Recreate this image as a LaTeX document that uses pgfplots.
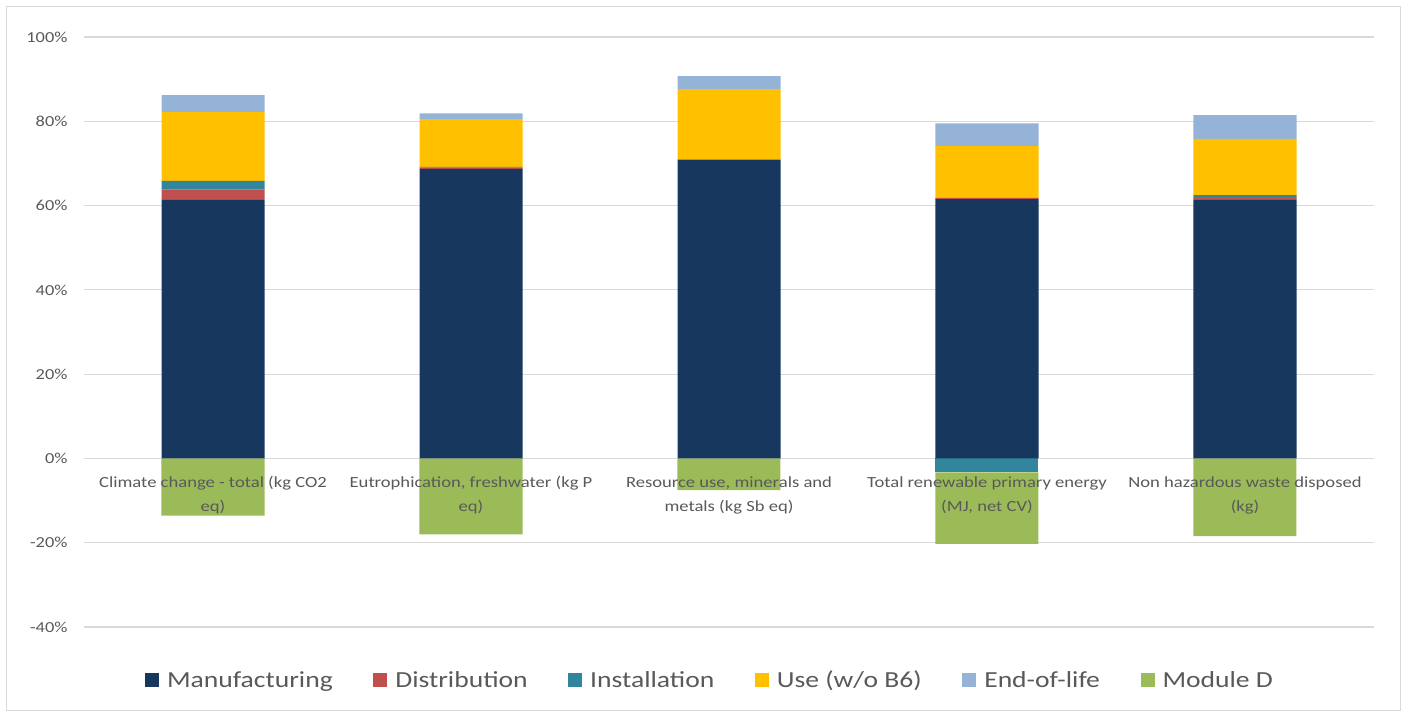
\documentclass[border=0pt]{standalone}
\usepackage{pgfplots}
\pgfplotsset{compat=1.18}
\usepackage{fontspec}
\setmainfont{Carlito}[FakeStretch=1.2]

\definecolor{cManu}{HTML}{17375E}
\definecolor{cDist}{HTML}{C0504D}
\definecolor{cInst}{HTML}{31859C}
\definecolor{cUse}{HTML}{FFC000}
\definecolor{cEol}{HTML}{95B3D7}
\definecolor{cModD}{HTML}{9BBB59}
\definecolor{cGrid}{HTML}{D9D9D9}
\definecolor{cText}{HTML}{595959}

\pgfplotsset{legsq/.style={legend image code/.code={\fill[##1] (0pt,-7pt) rectangle (14pt,7pt);}}}

\begin{document}
\begin{tikzpicture}[x=1pt,y=1pt]
\path[use as bounding box] (0,0) rectangle (1407,717);
\draw[cGrid, line width=1pt] (6.5,6.5) rectangle (1400.5,710.5);

% Axis 1: grid, y ticks, negative stacks, legend
\begin{axis}[
  at={(84pt,90pt)}, anchor=south west,
  scale only axis, width=1290pt, height=590pt,
  xmin=-0.5, xmax=4.5, ymin=-40, ymax=100,
  axis line style={draw=none},
  ymajorgrids, grid style={cGrid, line width=1.2pt},
  xtick=\empty,
  ytick={-40,-20,0,20,40,60,80,100},
  yticklabels={-40\%,-20\%,0\%,20\%,40\%,60\%,80\%,100\%},
  major tick length=0pt,
  yticklabel style={font=\fontsize{15.3}{18}\selectfont, text=cText, xshift=-13pt},
  ybar stacked, bar width=103pt,
  legend columns=6,
  legend style={at={(0.5,0)}, anchor=center, xshift=-19pt, yshift=-53pt,
    draw=none, fill=none, font=\fontsize{23}{28}\selectfont, text=cText,
    /tikz/every odd column/.append style={column sep=6pt},
    /tikz/every even column/.append style={column sep=38.5pt}},
]
\addplot[fill=cInst, draw=none, forget plot] coordinates {(0,0) (1,0) (2,0) (3,-3.3) (4,0)};
\addplot[fill=cModD, draw=none, forget plot] coordinates {(0,-13.6) (1,-18.05) (2,-7.5) (3,-17.0) (4,-18.45)};
\addlegendimage{legsq, fill=cManu, draw=none}
\addlegendimage{legsq, fill=cDist, draw=none}
\addlegendimage{legsq, fill=cInst, draw=none}
\addlegendimage{legsq, fill=cUse, draw=none}
\addlegendimage{legsq, fill=cEol, draw=none}
\addlegendimage{legsq, fill=cModD, draw=none}
\legend{Manufacturing, Distribution, Installation, Use (w/o B6), End-of-life, Module D}
\end{axis}

% Axis 2: positive stacks and category labels
\begin{axis}[
  at={(84pt,90pt)}, anchor=south west,
  scale only axis, width=1290pt, height=590pt,
  xmin=-0.5, xmax=4.5, ymin=-40, ymax=100,
  hide axis,
  ybar stacked, bar width=103pt,
]
\addplot[fill=cManu, draw=none] coordinates {(0,61.35) (1,68.7) (2,70.8) (3,61.5) (4,61.35)};
\addplot[fill=cDist, draw=none] coordinates {(0,2.45) (1,0.3) (2,0.05) (3,0.3) (4,0.65)};
\addplot[fill=cInst, draw=none] coordinates {(0,2.05) (1,0.2) (2,0.1) (3,0) (4,0.45)};
\addplot[fill=cUse, draw=none] coordinates {(0,16.4) (1,11.3) (2,16.65) (3,12.3) (4,13.4)};
\addplot[fill=cEol, draw=none] coordinates {(0,3.95) (1,1.4) (2,3.1) (3,5.4) (4,5.6)};
\tikzset{catlab/.style={anchor=north, align=center, inner sep=0pt, yshift=-18pt,
  font=\fontsize{15.5}{24}\selectfont, text=cText}}
\node[catlab] at (axis cs:0,0) {Climate change - total (kg CO2\\eq)};
\node[catlab] at (axis cs:1,0) {Eutrophication, freshwater (kg P\\eq)};
\node[catlab] at (axis cs:2,0) {Resource use, minerals and\\metals (kg Sb eq)};
\node[catlab] at (axis cs:3,0) {Total renewable primary energy\\(MJ, net CV)};
\node[catlab] at (axis cs:4,0) {Non hazardous waste disposed\\(kg)};
\end{axis}
\end{tikzpicture}
\end{document}
